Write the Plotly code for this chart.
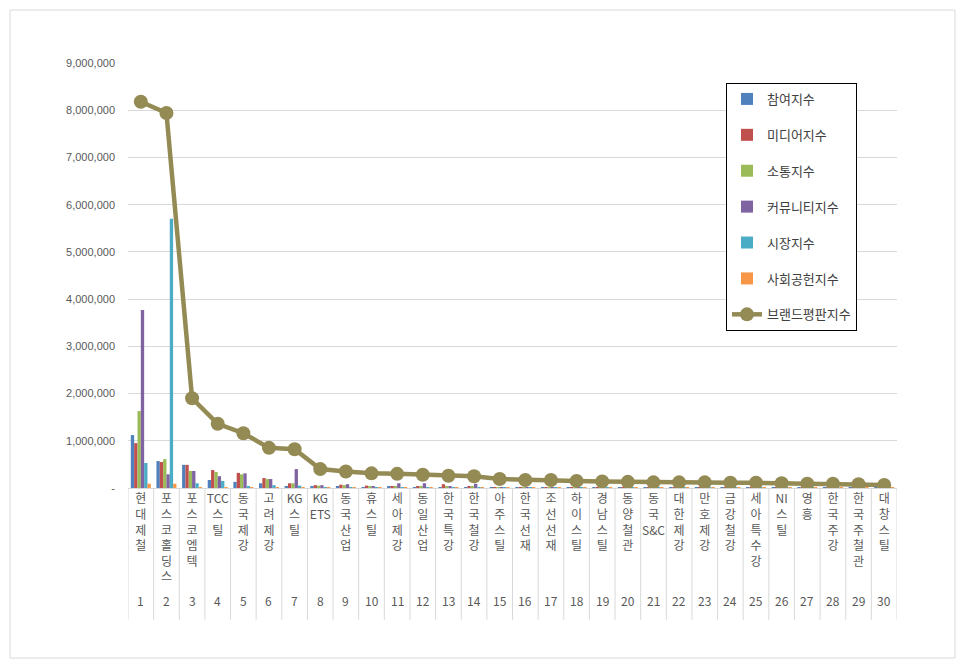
import plotly.graph_objects as go

companies = ["현대제철", "포스코홀딩스", "포스코엠텍", "TCC스틸", "동국제강", "고려제강", "KG스틸", "KG ETS",
             "동국산업", "휴스틸", "세아제강", "동일산업", "한국특강", "한국철강", "아주스틸", "한국선재",
             "조선선재", "하이스틸", "경남스틸", "동양철관", "동국S&C", "대한제강", "만호제강", "금강철강",
             "세아특수강", "NI스틸", "영흥", "한국주강", "한국주철관", "대창스틸"]
ranks = list(range(1, 31))

participation = [1120000, 570000, 490000, 170000, 130000, 100000, 40000, 30000, 30000, 20000,
                 30000, 20000, 20000, 20000, 15000, 10000, 10000, 10000, 10000, 10000,
                 10000, 10000, 10000, 10000, 10000, 10000, 8000, 8000, 8000, 8000]
media = [950000, 550000, 490000, 380000, 320000, 210000, 100000, 60000, 70000, 50000,
         40000, 30000, 80000, 30000, 20000, 20000, 20000, 20000, 20000, 20000,
         20000, 20000, 20000, 20000, 20000, 15000, 15000, 15000, 15000, 15000]
communication = [1630000, 610000, 360000, 340000, 290000, 190000, 100000, 50000, 60000, 40000,
                 40000, 30000, 40000, 30000, 15000, 15000, 15000, 15000, 15000, 15000,
                 15000, 15000, 15000, 15000, 15000, 12000, 12000, 12000, 12000, 12000]
community = [3770000, 290000, 360000, 250000, 310000, 190000, 400000, 60000, 80000, 30000,
             100000, 100000, 40000, 90000, 20000, 20000, 20000, 20000, 20000, 20000,
             20000, 20000, 20000, 20000, 20000, 15000, 15000, 15000, 15000, 15000]
market = [530000, 5700000, 100000, 150000, 40000, 60000, 50000, 20000, 20000, 20000,
          20000, 20000, 20000, 20000, 10000, 10000, 10000, 10000, 10000, 10000,
          10000, 10000, 10000, 10000, 10000, 10000, 10000, 10000, 10000, 10000]
social = [90000, 90000, 20000, 20000, 10000, 10000, 8000, 5000, 5000, 5000,
          5000, 5000, 5000, 5000, 4000, 4000, 4000, 4000, 4000, 4000,
          4000, 4000, 4000, 4000, 4000, 3000, 3000, 3000, 3000, 3000]
brand = [8180000, 7940000, 1900000, 1360000, 1160000, 850000, 820000, 400000, 350000, 310000,
         300000, 280000, 260000, 250000, 190000, 170000, 170000, 150000, 140000, 130000,
         120000, 120000, 120000, 110000, 110000, 100000, 90000, 90000, 80000, 65000]

bar_series = [
    ("참여지수", participation, "#4F81BD"),
    ("미디어지수", media, "#C0504D"),
    ("소통지수", communication, "#9BBB59"),
    ("커뮤니티지수", community, "#8064A2"),
    ("시장지수", market, "#4BACC6"),
    ("사회공헌지수", social, "#F79646"),
]
line_name = "브랜드평판지수"
line_color = "#948A54"

y_ticks = list(range(0, 9000001, 1000000))
y_ticktext = ["-" if v == 0 else f"{v:,}" for v in y_ticks]


def stack_label(s):
    # stack Korean characters vertically, keep latin runs together
    parts = []
    buf = ""
    for ch in s:
        if ch.isascii() and ch != " ":
            buf += ch
        else:
            if buf:
                parts.append(buf)
                buf = ""
            if ch != " ":
                parts.append(ch)
    if buf:
        parts.append(buf)
    return "<br>".join(parts)


fig = go.Figure()
for i, (name, vals, col) in enumerate(bar_series):
    fig.add_trace(go.Bar(x=ranks, y=vals, name=name, marker=dict(color=col, line=dict(width=0)),
                         legendgroup=str(i)))
fig.add_trace(go.Scatter(x=ranks, y=brand, name=line_name, mode="lines+markers",
                         line=dict(color=line_color, width=4.5),
                         marker=dict(color=line_color, size=14),
                         legendgroup="6"))

font_kr = "Noto Sans CJK KR"

shapes = []
# category separators below the axis
for k in range(len(ranks) + 1):
    shapes.append(dict(type="line", xref="x", yref="paper", x0=0.5 + k, x1=0.5 + k,
                       y0=0, y1=-0.31, line=dict(color="#d9d9d9", width=1)))
# outer chart border
shapes.append(dict(type="rect", xref="paper", yref="paper", x0=-0.1534, x1=1.0754,
                   y0=-0.4, y1=1.1247, line=dict(color="#d9d9d9", width=1), layer="below"))

annotations = []
for r in ranks:
    annotations.append(dict(x=r, y=-0.265, xref="x", yref="paper", text=str(r), showarrow=False,
                            font=dict(family=font_kr, size=12, color="#595959"),
                            xanchor="center", yanchor="middle"))

fig.update_layout(
    width=958, height=661,
    margin=dict(l=120, r=69, t=55, b=181),
    paper_bgcolor="white", plot_bgcolor="white",
    barmode="group", bargap=0.22, bargroupgap=0,
    font=dict(family=font_kr, color="#595959"),
    xaxis=dict(range=[0.5, 30.5], tickvals=ranks, ticktext=[stack_label(c) for c in companies],
               tickangle=0, showgrid=False, zeroline=False, showline=True, linecolor="#d9d9d9",
               ticks="", tickfont=dict(family=font_kr, size=12, color="#595959")),
    yaxis=dict(range=[0, 9000000], tickvals=y_ticks, ticktext=y_ticktext, showgrid=True,
               gridcolor="#d9d9d9", zeroline=False, showline=False, ticks="",
               tickfont=dict(family="Liberation Sans", size=11, color="#595959"), ticklabelstandoff=12),
    legend=dict(x=0.7776, y=0.953, xanchor="left", yanchor="top", bgcolor="white",
                bordercolor="#000000", borderwidth=1, traceorder="grouped", tracegroupgap=16,
                font=dict(family=font_kr, size=13, color="#404040"), entrywidth=150),
    shapes=shapes,
    annotations=annotations,
)

fig.write_html("out.html")
